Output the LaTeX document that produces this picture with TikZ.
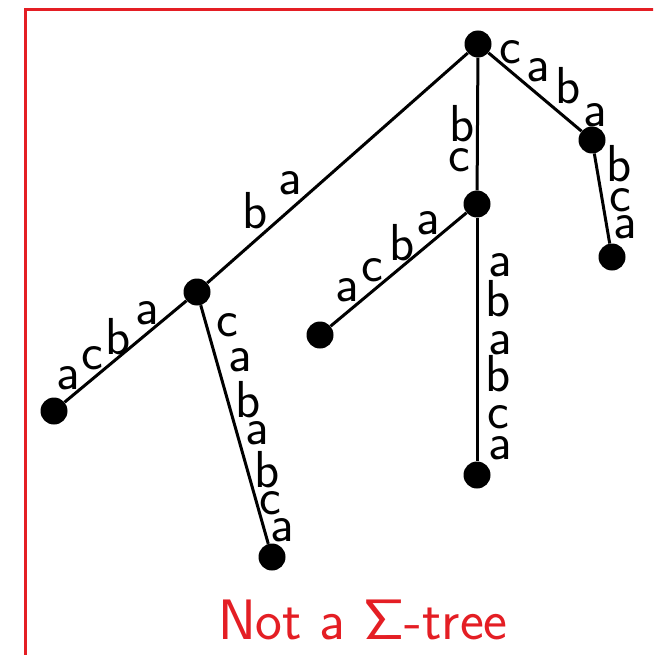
\documentclass[tikz,border=0pt]{standalone}
\definecolor{framered}{RGB}{228,30,36}
\DeclareFontFamily{OT1}{mysfgreek}{}
\DeclareFontShape{OT1}{mysfgreek}{m}{n}{<->cmss10}{}
\newcommand{\SigmaSans}{{\usefont{OT1}{mysfgreek}{m}{n}\char6}}
\begin{document}
\begin{tikzpicture}[x=1pt,y=-1pt,
  dot/.style={circle,fill=black,inner sep=0pt,minimum size=27pt},
  edge/.style={line width=3pt},
  lab/.style={inner sep=0pt,font=\fontsize{52}{60}\selectfont\sffamily},
  titlestyle/.style={inner sep=0pt,text=framered,font=\fontsize{57}{64}\selectfont\sffamily}]
\useasboundingbox (0,0) rectangle (653,655);
\clip (0,0) rectangle (653,655);
% frame
\draw[framered,line width=3pt] (25,700) -- (25,10) -- (700,10);
% nodes
\node[dot] (r) at (478,44) {};
\node[dot] (A) at (197,292) {};
\node[dot] (B) at (477,204) {};
\node[dot] (C) at (592,140) {};
\node[dot] (c1) at (612,257) {};
\node[dot] (b1) at (320,335) {};
\node[dot] (b2) at (477,475) {};
\node[dot] (a1) at (54,411) {};
\node[dot] (a2) at (272,557) {};
% edges
\draw[edge] (r) -- (A);
\draw[edge] (r) -- (B);
\draw[edge] (r) -- (C);
\draw[edge] (C) -- (c1);
\draw[edge] (B) -- (b1);
\draw[edge] (B) -- (b2);
\draw[edge] (A) -- (a1);
\draw[edge] (A) -- (a2);
% labels
\foreach \t/\x/\y [count=\i] in {
  c/510/52, a/538/70, b/568/86, a/595/115,
  b/619/164, c/620/200, a/625/227,
  b/462/124, c/459/160,
  b/255/211, a/290/183,
  a/347/290, c/372/270, b/402/243, a/428/223,
  a/68/378, c/92/358, b/118/337, a/147/313,
  c/227/325, a/240/360, b/248/400, a/257/433, b/267/470, c/270/503, a/282/530,
  a/500/265, b/498/299, a/500/343, b/498/374, c/498/417, a/500/448}
  \node[lab] (lab\i) at (\x,\y) {\t};
% title
\node[titlestyle,anchor=base] (title) at (363,639) {Not a \SigmaSans-tree};
\end{tikzpicture}
\end{document}
